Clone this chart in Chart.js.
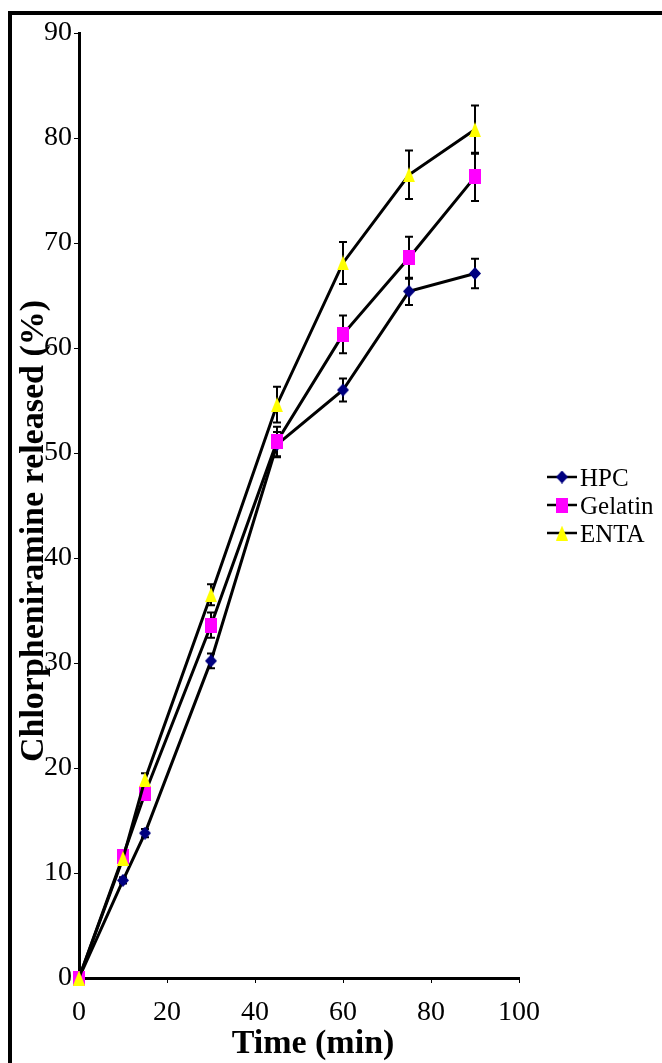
<!DOCTYPE html>
<html><head><meta charset="utf-8">
<script src="https://cdn.jsdelivr.net/npm/chart.js@4.4.1/dist/chart.umd.min.js"></script>
<style>html,body{margin:0;padding:0;background:#fff;overflow:hidden}canvas{display:block}</style>
</head><body>
<canvas id="c" width="662" height="1063"></canvas>
<script>
// ---- data ----
const timesMin = [0, 10, 15, 30, 45, 60, 75, 90];
const hpcValues = [0, 9.3, 13.8, 30.2, 50.8, 56.0, 65.4, 67.1];
const hpcErrors = [0, 0.3, 0.4, 0.7, 1.2, 1.1, 1.3, 1.4];
const gelatinValues = [0, 11.6, 17.6, 33.6, 51.1, 61.3, 68.6, 76.3];
const gelatinErrors = [0, 0.3, 0.5, 1.2, 1.4, 1.8, 2.0, 2.3];
const entaValues = [0, 11.4, 18.9, 36.5, 54.6, 68.1, 76.5, 80.8];
const entaErrors = [0, 0.4, 0.6, 1.0, 1.7, 2.0, 2.3, 2.3];
const seriesNames = ['HPC', 'Gelatin', 'ENTA'];
const xTickValues = [0, 20, 40, 60, 80, 100];
const yTickValues = [0, 10, 20, 30, 40, 50, 60, 70, 80, 90];
const xTitle = 'Time (min)';
const yTitle = 'Chlorpheniramine released (%)';

// ---- markers ----
function makeMarker(kind, color, w, h) {
  const c = document.createElement('canvas'); c.width = w; c.height = h;
  const g = c.getContext('2d'); g.fillStyle = color; g.beginPath();
  if (kind === 'diamond') { g.moveTo(w/2, 0); g.lineTo(w, h/2); g.lineTo(w/2, h); g.lineTo(0, h/2); }
  else if (kind === 'square') { g.rect(0, 0, w, h); }
  else { g.moveTo(w/2, 0); g.lineTo(w, h); g.lineTo(0, h); }
  g.closePath(); g.fill(); return c;
}
const markers = [
  makeMarker('diamond', '#000080', 12, 13),
  makeMarker('square', '#FF00FF', 12, 15),
  makeMarker('triangle', '#FFFF00', 12, 15)
];
const pts = vals => vals.map((v, i) => ({x: timesMin[i], y: v}));
const valueSets = [hpcValues, gelatinValues, entaValues];
const errorSets = [hpcErrors, gelatinErrors, entaErrors];

const datasets = seriesNames.map((name, k) => ({
  label: name,
  data: pts(valueSets[k]),
  errors: errorSets[k],
  borderColor: '#000',
  borderWidth: 3,
  pointStyle: markers[k],
  pointRadius: 6,
  pointHoverRadius: 6,
  tension: 0,
  clip: false,
  order: 2 - k
}));

const SERIF = "'Liberation Serif', 'Times New Roman', serif";

const framePlugin = {
  id: 'frame',
  beforeDraw(chart) {
    const ctx = chart.ctx;
    ctx.save();
    ctx.fillStyle = '#fff'; ctx.fillRect(0, 0, chart.width, chart.height);
    ctx.strokeStyle = '#000'; ctx.lineWidth = 4;
    ctx.beginPath(); ctx.moveTo(10, chart.height + 5); ctx.lineTo(10, 13); ctx.lineTo(chart.width + 5, 13); ctx.stroke();
    ctx.restore();
  }
};

const errorBarPlugin = {
  id: 'errorBars',
  beforeDatasetsDraw(chart) {
    const ctx = chart.ctx, xs = chart.scales.x, ys = chart.scales.y;
    ctx.save(); ctx.strokeStyle = '#000'; ctx.lineWidth = 2;
    chart.data.datasets.forEach(ds => {
      ds.data.forEach((p, i) => {
        const e = ds.errors[i]; if (!e) return;
        const x = Math.round(xs.getPixelForValue(p.x));
        const yt = ys.getPixelForValue(p.y + e), yb = ys.getPixelForValue(p.y - e);
        ctx.beginPath();
        ctx.moveTo(x, yt); ctx.lineTo(x, yb);
        ctx.moveTo(x - 4, yt); ctx.lineTo(x + 4, yt);
        ctx.moveTo(x - 4, yb); ctx.lineTo(x + 4, yb);
        ctx.stroke();
      });
    });
    ctx.restore();
  }
};

const titlesLegendPlugin = {
  id: 'titlesLegend',
  afterDraw(chart) {
    const ctx = chart.ctx;
    ctx.save();
    ctx.fillStyle = '#000';
    ctx.font = "bold 34px " + SERIF;
    ctx.textAlign = 'center'; ctx.textBaseline = 'alphabetic';
    ctx.fillText(xTitle, 313, 1053);
    ctx.translate(43, 531); ctx.rotate(-Math.PI / 2);
    ctx.fillText(yTitle, 0, 0);
    ctx.restore();
    // legend
    ctx.save();
    const rows = [477, 505, 533];
    chart.data.datasets.forEach((ds, k) => {
      const y = rows[k];
      ctx.strokeStyle = '#000'; ctx.lineWidth = 2.5;
      ctx.beginPath(); ctx.moveTo(547, y); ctx.lineTo(577, y); ctx.stroke();
      const m = markers[k];
      ctx.drawImage(m, 562 - m.width / 2, y - m.height / 2);
      ctx.fillStyle = '#000';
      ctx.font = "25px " + SERIF; ctx.textAlign = 'left'; ctx.textBaseline = 'middle';
      ctx.fillText(ds.label, 580, y + 2);
    });
    ctx.restore();
  }
};

new Chart(document.getElementById('c'), {
  type: 'line',
  data: {datasets},
  options: {
    responsive: false,
    animation: false,
    devicePixelRatio: 1,
    layout: {padding: {left: 0, top: 33, right: 143, bottom: 0}},
    plugins: {legend: {display: false}, tooltip: {enabled: false}},
    scales: {
      x: {
        type: 'linear', min: 0, max: 100,
        afterFit(s) { s.height = 85; },
        afterBuildTicks(s) { s.ticks = xTickValues.map(v => ({value: v})); },
        ticks: {color: '#000', font: {family: SERIF, size: 28}, padding: 13, maxRotation: 0, autoSkip: false},
        grid: {drawOnChartArea: false, drawTicks: true, tickLength: 5, color: '#000', lineWidth: 1},
        border: {display: true, color: '#000', width: 3}
      },
      y: {
        type: 'linear', min: 0, max: 90,
        afterFit(s) { s.width = 79; },
        afterBuildTicks(s) { s.ticks = yTickValues.map(v => ({value: v})); },
        ticks: {color: '#000', font: {family: SERIF, size: 28}, padding: 2, autoSkip: false},
        grid: {drawOnChartArea: false, drawTicks: true, tickLength: 5, color: '#000', lineWidth: 1},
        border: {display: true, color: '#000', width: 3}
      }
    }
  },
  plugins: [framePlugin, errorBarPlugin, titlesLegendPlugin]
});
</script>
</body></html>
